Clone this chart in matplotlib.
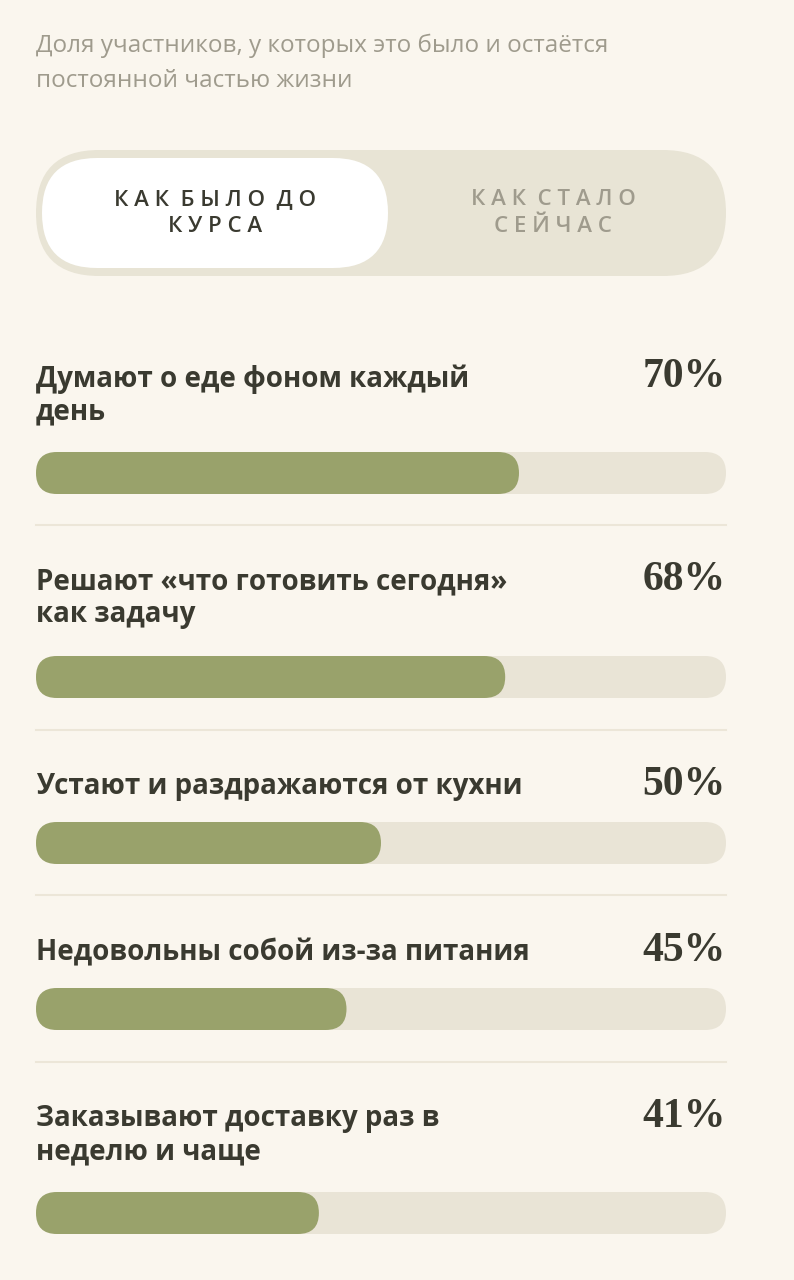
import matplotlib
matplotlib.use("Agg")
import matplotlib.pyplot as plt
from matplotlib.patches import FancyBboxPatch

# data
labels = [
    "Думают о еде фоном каждый\nдень",
    "Решают «что готовить сегодня»\nкак задачу",
    "Устают и раздражаются от кухни",
    "Недовольны собой из-за питания",
    "Заказывают доставку раз в\nнеделю и чаще",
]
values = [70, 68, 50, 45, 41]
bar_centers = [473, 677, 843, 1009, 1213]
label_tops = [364, 567, 772, 938, 1104]
separators = [525, 730, 895, 1062]

BG = "#FAF6EE"
TRACK = "#E9E4D6"
FILL = "#99A26B"
DARK = "#3A3A30"
GREY = "#9F9B8D"
SANS = ["Open Sans", "DejaVu Sans"]

TRACK_LEFT = 36
TRACK_W = 690
BAR_H = 42

fig = plt.figure(figsize=(7.94, 12.8), dpi=100, facecolor=BG)
ax = fig.add_axes([0, 0, 1, 1])
ax.set_xlim(0, 794)
ax.set_ylim(1280, 0)
ax.axis("off")


def rounded(ax, x, y, w, h, color, z=1):
    p = FancyBboxPatch((x, y), w, h,
                       boxstyle=f"round,pad=0,rounding_size={h / 2}",
                       fc=color, ec="none", zorder=z)
    ax.add_patch(p)


# header
ax.text(36, 63, "Доля участников, у которых это было и остаётся\nпостоянной частью жизни",
        fontsize=17.5, color=GREY, family=SANS, va="center", linespacing=1.6)

# toggle
rounded(ax, 36, 150, 690, 126, "#E8E4D5")
rounded(ax, 42, 158, 346, 110, "white", z=2)
ax.text(215, 213, "К А К  Б Ы Л О  Д О\nК У Р С А", fontsize=16, color=DARK,
        family=SANS, fontweight="semibold", ha="center", va="center",
        linespacing=1.35, zorder=3)
ax.text(553, 213, "К А К  С Т А Л О\nС Е Й Ч А С", fontsize=16, color=GREY,
        family=SANS, fontweight="semibold", ha="center", va="center",
        linespacing=1.35, zorder=3)

# tracks and bars
tracks = ax.barh(bar_centers, [100] * len(values), height=BAR_H, left=0)
bars = ax.barh(bar_centers, values, height=BAR_H, left=0)
for t, b in zip(tracks, bars):
    t.set_visible(False)
    b.set_visible(False)
    y = t.get_y()
    rounded(ax, TRACK_LEFT, y, TRACK_W, BAR_H, TRACK, z=1)
    rounded(ax, TRACK_LEFT, y, TRACK_W * b.get_width() / 100, BAR_H, FILL, z=2)

for lab, v, top in zip(labels, values, label_tops):
    ax.text(36, top, lab, fontsize=20, fontweight="bold", color=DARK,
            family=SANS, va="top", linespacing=1.2)
    ax.text(726, top - 6, f"{v}%", fontsize=30, fontweight="bold", color=DARK,
            family="Liberation Serif", ha="right", va="top")

for s in separators:
    ax.plot([36, 726], [s, s], color="#ECE6D8", lw=1.5)

fig.savefig("out.png", dpi=100, facecolor=BG)
